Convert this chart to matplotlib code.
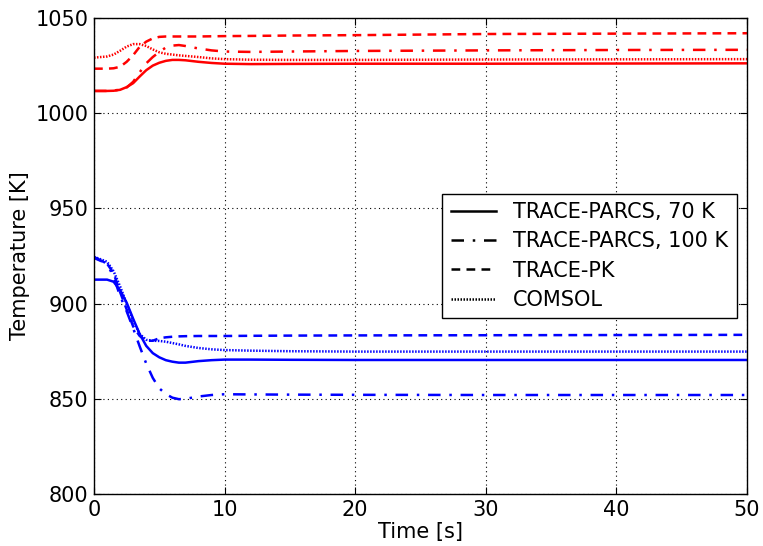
import matplotlib
matplotlib.use("Agg")
import matplotlib.pyplot as plt

t = [0, 1, 1.5, 2, 2.5, 3, 3.5, 4, 4.5, 5, 5.5, 6, 6.5, 7, 8, 9, 10, 12, 15, 20, 30, 40, 50]

red_parcs70 = [1011.7, 1011.7, 1011.8, 1012.3, 1013.7, 1015.8, 1019.3, 1022.6, 1025, 1026.5, 1027.5, 1028, 1028,
               1027.8, 1027, 1026.4, 1026, 1025.8, 1025.9, 1026, 1026, 1026.1, 1026.2]
red_parcs100 = [1011.7, 1011.7, 1011.9, 1012.4, 1013.5, 1016.5, 1021.5, 1026.2, 1029.5, 1032.2, 1034.5, 1035.5, 1035.8,
                1035.3, 1034, 1033, 1032.4, 1032.2, 1032.4, 1032.7, 1033, 1033.2, 1033.3]
red_pk = [1023.4, 1023.4, 1023.6, 1024.4, 1027, 1030.5, 1034.9, 1037.6, 1039.3, 1040.1, 1040.3, 1040.3, 1040.3,
          1040.3, 1040.3, 1040.4, 1040.5, 1040.6, 1040.8, 1041, 1041.6, 1041.8, 1042]
red_comsol = [1029.2, 1029.8, 1030.8, 1032.8, 1035, 1036.3, 1036.3, 1035.3, 1033.5, 1032, 1031.2, 1030.8, 1030.4,
              1030.1, 1029.5, 1028.8, 1028.4, 1028.1, 1028, 1028, 1028.2, 1028.3, 1028.4]

blue_parcs70 = [912.6, 912.6, 911.5, 907, 900.5, 892, 884, 877.8, 874, 871.8, 870.3, 869.5, 869,
                869, 869.8, 870.3, 870.6, 870.6, 870.5, 870.4, 870.4, 870.4, 870.4]
blue_parcs100 = [924.5, 921, 914, 904, 896, 887, 877.5, 868.5, 861, 855.5, 852.5, 850.6, 849.8,
                 850, 851.2, 852, 852.4, 852.3, 852.2, 852.1, 852, 852, 852]
blue_pk = [924, 921, 916, 906, 897, 888, 883, 880.5, 880.5, 881.8, 882.3, 882.6, 882.8,
           882.9, 883, 883, 883, 883.1, 883.2, 883.3, 883.4, 883.5, 883.6]
blue_comsol = [924.6, 922, 917, 909, 900, 891, 884, 881, 880.5, 880.4, 880, 879.3, 878.6,
               877.8, 876.7, 876, 875.6, 875.3, 875, 874.8, 874.8, 874.8, 874.8]

legend_labels = ["TRACE-PARCS, 70 K", "TRACE-PARCS, 100 K", "TRACE-PK", "COMSOL"]

plt.rcParams['font.family'] = ['DejaVu Sans']
plt.rcParams['font.size'] = 15

fig = plt.figure(figsize=(7.63, 5.46), dpi=100)
ax = fig.add_axes([0.1232, 0.0952, 0.8558, 0.8718])

lw = 1.8
styles = [dict(linestyle='-'), dict(linestyle=(0, (5, 3.5, 1, 3.5))), dict(linestyle=(0, (3.5, 2.5))),
          dict(linestyle=(0, (0.6, 0.6)))]
reds = [red_parcs70, red_parcs100, red_pk, red_comsol]
blues = [blue_parcs70, blue_parcs100, blue_pk, blue_comsol]
for data, st in zip(reds, styles):
    ax.plot(t, data, color='red', lw=lw, **st)
for data, st in zip(blues, styles):
    ax.plot(t, data, color='blue', lw=lw, **st)

handles = [plt.Line2D([], [], color='black', lw=lw, **st) for st in styles]
leg = ax.legend(handles, legend_labels, loc='center right', fancybox=False, framealpha=1,
                edgecolor='black', fontsize=15, handlelength=2.2, borderaxespad=0.5,
                labelspacing=0.45)
leg.get_frame().set_linewidth(1.0)

ax.set_xlim(0, 50)
ax.set_ylim(800, 1050)
ax.set_xticks([0, 10, 20, 30, 40, 50])
ax.set_yticks([800, 850, 900, 950, 1000, 1050])
ax.grid(True, color='black', linestyle=(0, (1, 3)), linewidth=0.8)
ax.tick_params(direction='in', top=True, right=True, length=5, pad=4)
ax.set_xlabel('Time [s]', fontsize=15, labelpad=2)
ax.set_ylabel('Temperature [K]', fontsize=15, labelpad=4)
for s in ax.spines.values():
    s.set_linewidth(1.0)

fig.savefig('out.png', dpi=100, facecolor='white')
